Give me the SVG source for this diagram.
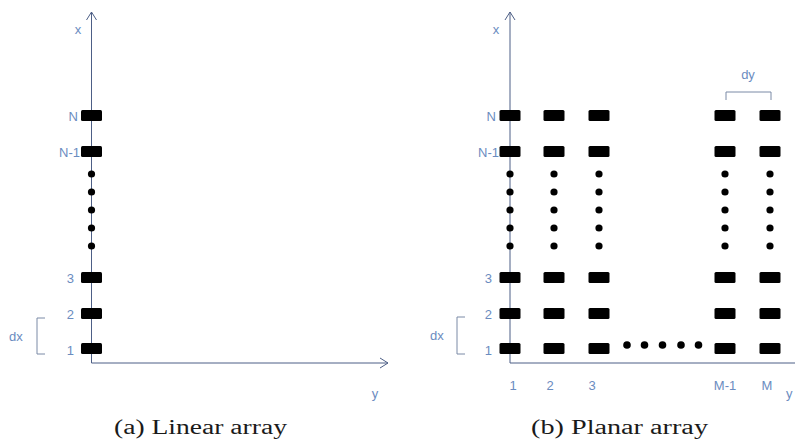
<svg xmlns="http://www.w3.org/2000/svg" width="795" height="444" viewBox="0 0 795 444">
<style>
.ax{stroke:#4d5f86;stroke-width:1;fill:none}
.br{stroke:#7a8aa6;stroke-width:1;fill:none}
.lb{font-family:"Liberation Sans",Arial,sans-serif;font-size:13px;fill:#6b8cbf}
.cap{font-family:"Liberation Serif","Times New Roman",serif;font-size:20px;fill:#1a1a1a}
.el{fill:#000}
</style>
<defs>
<marker id="arr" markerWidth="12" markerHeight="12" refX="10" refY="6" orient="auto" markerUnits="userSpaceOnUse">
<polyline points="2,1 10,6 2,11" fill="none" stroke="#4d5f86" stroke-width="1"/>
</marker>
<rect id="e" x="-10.5" y="0" width="21" height="11" rx="1.5"/>
<g id="dots"><circle cx="0" cy="174" r="3.6"/><circle cx="0" cy="192" r="3.6"/><circle cx="0" cy="210" r="3.6"/><circle cx="0" cy="228" r="3.6"/><circle cx="0" cy="246" r="3.6"/></g>
<g id="col"><use href="#e" y="110"/><use href="#e" y="146"/><use href="#dots"/><use href="#e" y="272"/><use href="#e" y="308"/><use href="#e" y="343"/></g>
</defs>
<g id="connectors">
<line class="ax" x1="91.5" y1="363" x2="91.5" y2="12" marker-end="url(#arr)"/>
<line class="ax" x1="91.5" y1="363" x2="388" y2="363" marker-end="url(#arr)"/>
<line class="ax" x1="510" y1="363" x2="510" y2="12" marker-end="url(#arr)"/>
<line class="ax" x1="510" y1="363" x2="800" y2="363" stroke="#b5bfd0"/>
<path class="br" d="M45 318H37V354H45"/>
<path class="br" d="M465 317H457V354H465"/>
<path class="br" d="M726 100V92H771V100"/>
</g>
<g id="linear" class="el">
<use href="#col" x="91.5"/>
</g>
<g id="planar" class="el">
<use href="#col" x="510"/>
<use href="#col" x="554"/>
<use href="#col" x="599"/>
<use href="#col" x="725"/>
<use href="#col" x="770"/>
<circle cx="627" cy="345" r="3.8"/><circle cx="644.5" cy="345" r="3.8"/><circle cx="662.5" cy="345" r="3.8"/><circle cx="681" cy="345" r="3.8"/><circle cx="698.5" cy="345" r="3.8"/>
</g>
<g id="labels-linear" class="lb">
<text x="78" y="34" text-anchor="middle">x</text>
<text x="78" y="121" text-anchor="end">N</text>
<text x="80" y="157" text-anchor="end">N-1</text>
<text x="74" y="283" text-anchor="end">3</text>
<text x="74" y="319" text-anchor="end">2</text>
<text x="74" y="355" text-anchor="end">1</text>
<text x="9" y="341">dx</text>
<text x="375" y="398" text-anchor="middle">y</text>
</g>
<g id="labels-planar" class="lb">
<text x="496" y="34" text-anchor="middle">x</text>
<text x="496" y="121" text-anchor="end">N</text>
<text x="499" y="157" text-anchor="end">N-1</text>
<text x="492" y="283" text-anchor="end">3</text>
<text x="492" y="319" text-anchor="end">2</text>
<text x="492" y="355" text-anchor="end">1</text>
<text x="430" y="340">dx</text>
<text x="748" y="79" text-anchor="middle">dy</text>
<text x="513" y="390" text-anchor="middle">1</text>
<text x="550" y="390" text-anchor="middle">2</text>
<text x="592" y="390" text-anchor="middle">3</text>
<text x="725" y="390" text-anchor="middle">M-1</text>
<text x="767" y="390" text-anchor="middle">M</text>
<text x="786" y="398">y</text>
</g>
<g id="captions" class="cap">
<text x="114" y="434" textLength="173" lengthAdjust="spacingAndGlyphs">(a) Linear array</text>
<text x="531" y="434" textLength="177" lengthAdjust="spacingAndGlyphs">(b) Planar array</text>
</g>
</svg>
